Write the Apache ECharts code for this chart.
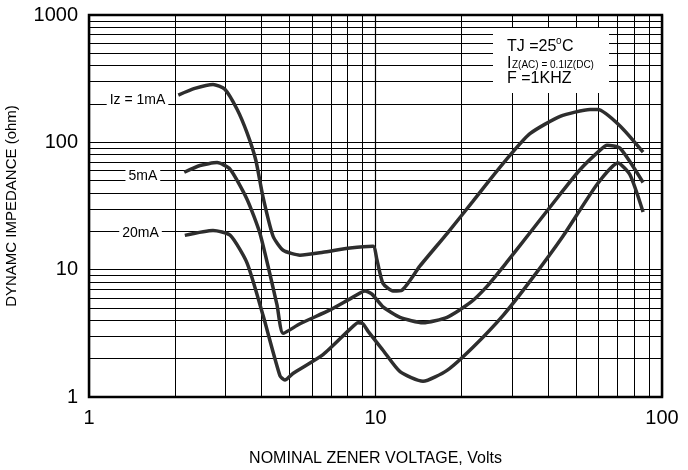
<!DOCTYPE html>
<html>
<head>
<meta charset="utf-8">
<script src="https://cdn.jsdelivr.net/npm/echarts@6/dist/echarts.min.js"></script>
<style>
  html, body { margin: 0; padding: 0; background: #fff; }
  #chart { width: 688px; height: 470px; }
</style>
</head>
<body>
<div id="chart"></div>
<script>
// values (volts, ohm)
var volts1 = [2.05, 2.34, 2.71, 2.98, 3.29, 3.56, 3.82, 4.05, 4.39, 4.76, 5.45, 6.56, 8.15, 9.8, 10.12, 10.62, 11.51, 12.37, 14.3, 17.8, 21.9, 25.1, 29.5, 34.6, 44.1, 56.1, 59.8, 71.4, 85.9];
var ohm1   = [235, 265, 285, 261, 181, 119, 72.7, 37.1, 18.3, 14.2, 13.0, 13.7, 14.8, 15.3, 11.9, 7.8, 6.8, 6.9, 10.7, 19.3, 34.5, 51.0, 79.4, 117, 160, 181, 181, 134.5, 83.8];

var volts2 = [2.15, 2.44, 2.8, 3.11, 3.56, 3.95, 4.53, 4.76, 5.45, 6.94, 8.15, 9.19, 9.72, 10.62, 12.18, 14.65, 17.77, 21.4, 24.5, 28.5, 34.6, 44.1, 51.7, 60.8, 64.3, 71.4, 85.9];
var ohm2   = [58.2, 65.8, 69.3, 61.4, 35.8, 19.3, 5.31, 3.16, 3.76, 4.83, 5.9, 6.81, 6.43, 5.11, 4.22, 3.83, 4.22, 5.5, 7.4, 11.2, 19.5, 39.1, 60.9, 86.8, 94.8, 89.9, 48.4];

var volts3 = [2.16, 2.71, 3.11, 3.56, 4.05, 4.64, 4.83, 5.15, 6.56, 8.15, 8.69, 9.04, 9.41, 10.62, 12.18, 14.65, 17.77, 21.89, 27.9, 34.6, 45.1, 59.3, 70.2, 77.3, 85.9];
var ohm3   = [18.6, 20.3, 18.6, 11.3, 4.38, 1.47, 1.36, 1.53, 2.15, 3.41, 3.83, 3.76, 3.29, 2.33, 1.58, 1.33, 1.62, 2.46, 4.38, 8.09, 18.3, 46.7, 68.9, 55.7, 28.4];

var curveNames = ['Iz = 1mA', '5mA', '20mA'];

// minor log grid lines
var xMinor = [2, 3, 4, 5, 6, 7, 8, 9, 20, 30, 40, 50, 60, 70, 80, 90];
var yMinor = [2, 3, 4, 5, 6, 7, 8, 9, 20, 30, 40, 50, 60, 70, 80, 90, 200, 300, 400, 500, 600, 700, 800, 900];

var font = '"Liberation Sans", Arial, sans-serif';
var ink = '#000';
var curveColor = '#2e2e2e';

function makeData(xs, ys, name, dist, dy) {
  return xs.map(function(x, i) {
    if (i === 0) {
      return {
        value: [x, ys[i]],
        label: {
          show: true, position: 'left', distance: dist, offset: [0, dy], formatter: name,
          fontFamily: font, fontSize: 14, color: ink,
          backgroundColor: '#fff', padding: [2, 3]
        }
      };
    }
    return [x, ys[i]];
  });
}

function curve(xs, ys, name, dist, dy) {
  return {
    name: name, type: 'line', z: 5,
    data: makeData(xs, ys, name, dist, dy),
    smooth: 0.2,
    showSymbol: true, symbol: 'circle', symbolSize: 0,
    lineStyle: { color: curveColor, width: 3.5 },
    itemStyle: { color: curveColor }
  };
}

function txt(x, y, s, size, va) {
  return {
    type: 'text', x: x, y: y, z: 101,
    style: { text: s, fill: ink, font: size + 'px ' + font, verticalAlign: va || 'top' }
  };
}

var chart = echarts.init(document.getElementById('chart'), null, { renderer: 'canvas' });
chart.setOption({
  animation: false,
  backgroundColor: '#fff',
  grid: {
    left: 89, right: 26, top: 15, bottom: 73, outerBoundsMode: 'none', containLabel: false,
    show: true, borderColor: ink, borderWidth: 2.5, backgroundColor: 'transparent'
  },
  xAxis: {
    type: 'log', logBase: 10, min: 1, max: 100,
    name: 'NOMINAL ZENER VOLTAGE, Volts', nameLocation: 'middle', nameGap: 54,
    nameTextStyle: { fontFamily: font, fontSize: 16, color: ink },
    axisLine: { show: false }, axisTick: { show: false },
    axisLabel: { fontFamily: font, fontSize: 20, color: ink, margin: 11, formatter: function(v) { return String(Math.round(v)); } },
    splitLine: { show: true, lineStyle: { color: ink, width: 1.2 } }
  },
  yAxis: {
    type: 'log', logBase: 10, min: 1, max: 1000,
    name: 'DYNAMC IMPEDANCE (ohm)', nameLocation: 'middle', nameGap: 70, nameRotate: 90,
    nameTextStyle: { fontFamily: font, fontSize: 15, color: ink },
    axisLine: { show: false }, axisTick: { show: false },
    axisLabel: { fontFamily: font, fontSize: 20, color: ink, margin: 11, formatter: function(v) { return String(Math.round(v)); } },
    splitLine: { show: true, lineStyle: { color: ink, width: 1.2 } }
  },
  series: [
    {
      name: 'grid', type: 'line', z: 1, data: [[1, 1]], showSymbol: false,
      lineStyle: { opacity: 0 },
      markLine: {
        silent: true, symbol: ['none', 'none'], label: { show: false },
        lineStyle: { color: ink, width: 1, type: 'solid' },
        data: xMinor.map(function(v) { return { xAxis: v }; })
          .concat(yMinor.map(function(v) { return { yAxis: v }; }))
      }
    },
    curve(volts1, ohm1, curveNames[0], 10, 5),
    curve(volts2, ohm2, curveNames[1], 24, 4),
    curve(volts3, ohm3, curveNames[2], 23, -2)
  ],
  graphic: [
    { type: 'rect', z: 100, shape: { x: 493, y: 28, width: 116, height: 65 }, style: { fill: '#fff' } },
    txt(507, 39, 'TJ =25', 16),
    txt(556, 36, 'o', 10),
    txt(562, 39, 'C', 16),
    txt(507, 56, 'I', 16),
    txt(512, 70, 'Z(AC) = 0.1IZ(DC)', 10, 'bottom'),
    txt(507, 71, 'F =1KHZ', 16)
  ]
});
window.addEventListener('resize', function() { chart.resize(); });
</script>
</body>
</html>
